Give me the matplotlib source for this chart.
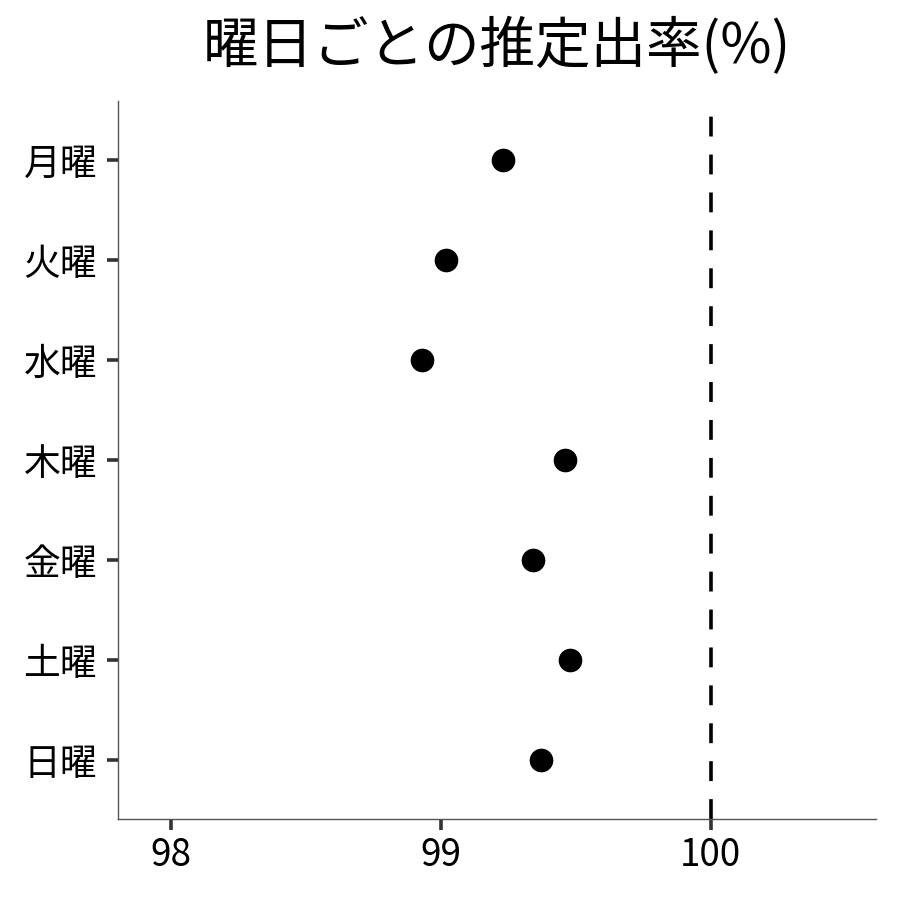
import matplotlib
matplotlib.use('Agg')
import matplotlib.pyplot as plt

plt.rcParams['font.family'] = ['Noto Sans CJK JP', 'DejaVu Sans']

# 曜日ごとの推定出率
days = ['月曜', '火曜', '水曜', '木曜', '金曜', '土曜', '日曜']
rates = [99.23, 99.02, 98.93, 99.46, 99.34, 99.48, 99.37]
xticks = [98, 99, 100]

fig = plt.figure(figsize=(9, 9), dpi=100)
ax = fig.add_axes([0.131, 0.09, 0.842, 0.798])

ypos = list(range(len(days)))[::-1]
ax.scatter(rates, ypos, s=290, color='black', linewidths=0, zorder=3)
ax.axvline(100, color='black', linestyle=(0, (5.5, 5)), linewidth=2.6, zorder=2)

ax.set_xlim(97.804, 100.611)
ax.set_ylim(-0.59, 6.59)
ax.set_xticks(xticks)
ax.set_xticklabels([str(v) for v in xticks])
ax.set_yticks(ypos)
ax.set_yticklabels(days)

for side in ['top', 'right']:
    ax.spines[side].set_visible(False)
for side in ['left', 'bottom']:
    ax.spines[side].set_color('#555555')
    ax.spines[side].set_linewidth(1.0)

ax.tick_params(axis='both', length=8, width=2.6, color='#333333', labelsize=26.5)
ax.tick_params(axis='y', pad=7)
ax.tick_params(axis='x', pad=4)
ax.set_title('曜日ごとの推定出率(%)', fontsize=40, pad=27)

fig.savefig('out.png', dpi=100)
